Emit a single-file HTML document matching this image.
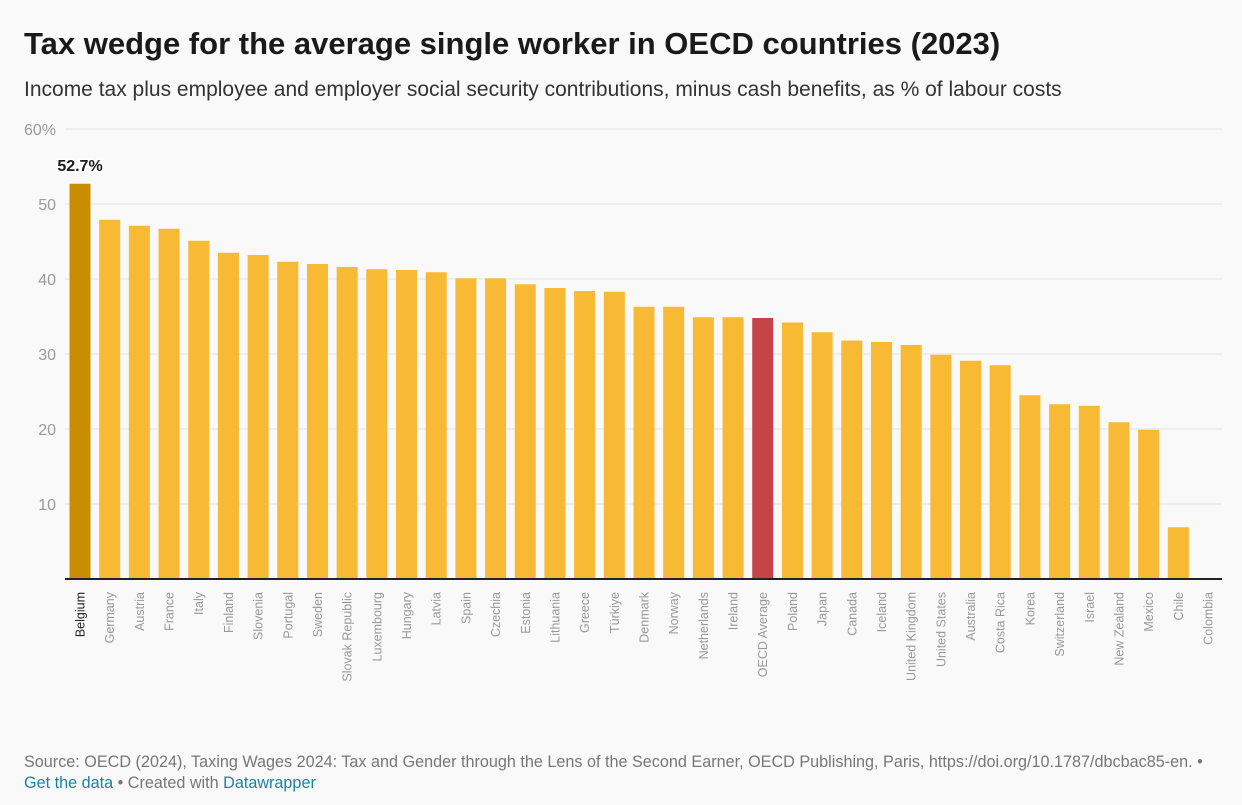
<!DOCTYPE html>
<html><head><meta charset="utf-8"><style>
body{margin:0;background:#f9f9f9;font-family:"Liberation Sans",sans-serif;width:1242px;height:805px;overflow:hidden;position:relative}
h1{position:absolute;left:24px;top:26px;margin:0;font-size:31px;font-weight:bold;color:#1a1a1a}
.sub{position:absolute;left:24px;top:78px;font-size:21px;color:#333}
.foot{position:absolute;left:24px;font-size:16.2px;color:#777}
.foot a{color:#1d81a2;text-decoration:none}
</style></head><body>
<h1>Tax wedge for the average single worker in OECD countries (2023)</h1>
<div class="sub">Income tax plus employee and employer social security contributions, minus cash benefits, as % of labour costs</div>
<svg id="chart" width="1242" height="720" style="position:absolute;left:0;top:0"></svg>
<div class="foot" style="top:753px">Source: OECD (2024), Taxing Wages 2024: Tax and Gender through the Lens of the Second Earner, OECD Publishing, Paris, https://doi.org/10.1787/dbcbac85-en. •</div>
<div class="foot" style="top:774px"><a>Get the data</a> • Created with <a>Datawrapper</a></div>
<script>
const categories=["Belgium","Germany","Austria","France","Italy","Finland","Slovenia","Portugal","Sweden","Slovak Republic","Luxembourg","Hungary","Latvia","Spain","Czechia","Estonia","Lithuania","Greece","Türkiye","Denmark","Norway","Netherlands","Ireland","OECD Average","Poland","Japan","Canada","Iceland","United Kingdom","United States","Australia","Costa Rica","Korea","Switzerland","Israel","New Zealand","Mexico","Chile","Colombia"];
const values=[52.7,47.9,47.1,46.7,45.1,43.5,43.2,42.3,42.0,41.6,41.3,41.2,40.9,40.1,40.1,39.3,38.8,38.4,38.3,36.3,36.3,34.9,34.9,34.8,34.2,32.9,31.8,31.6,31.2,29.9,29.1,28.5,24.5,23.3,23.1,20.9,19.9,6.9,0];
const ticks=[10,20,30,40,50,60];
const tickLabels=["10","20","30","40","50","60%"];
const NS="http://www.w3.org/2000/svg";
const svg=document.getElementById('chart');
const y0=579,yTop=129,x0=65,x1=1222;
const y=v=>y0-(v/60)*(y0-yTop);
const step=(1208-80)/(categories.length-1);
const xc=i=>80+i*step;
const bw=21;
function mk(t,a){const e=document.createElementNS(NS,t);for(const k in a)e.setAttribute(k,a[k]);svg.appendChild(e);return e;}
ticks.forEach((t,i)=>{
 const l=mk('line',{x1:x0,x2:x1,y1:y(t),y2:y(t),stroke:'#e2e2e2','stroke-width':1});
 
 
 const tx=mk('text',{x:56,y:y(t)+6,'text-anchor':'end','font-size':16,fill:'#9a9a9a'});
 tx.textContent=tickLabels[i];
 
 
});
categories.forEach((c,i)=>{
 const v=values[i];
 const col=i===0?'#c88e00':(c==='OECD Average'?'#c44448':'#f8b935');
 if(v>0){
 const r=mk('rect',{x:xc(i)-bw/2,y:y(v),width:bw,height:y0-y(v),fill:col});
 
 
 }
 const t=mk('text',{transform:`translate(${xc(i)+4.5},592) rotate(-90)`,'text-anchor':'end','font-size':12.5,fill:i===0?'#222':'#999'});
 t.textContent=c;
 
 
});
const ax=mk('line',{x1:x0,x2:x1,y1:y0,y2:y0,stroke:'#222','stroke-width':2});


const lab=mk('text',{x:xc(0),y:y(values[0])-13,'text-anchor':'middle','font-size':16,'font-weight':'bold',fill:'#1a1a1a',stroke:'#fff','stroke-width':4,'paint-order':'stroke'});
lab.textContent=values[0].toFixed(1)+'%';


</script>
</body></html>
